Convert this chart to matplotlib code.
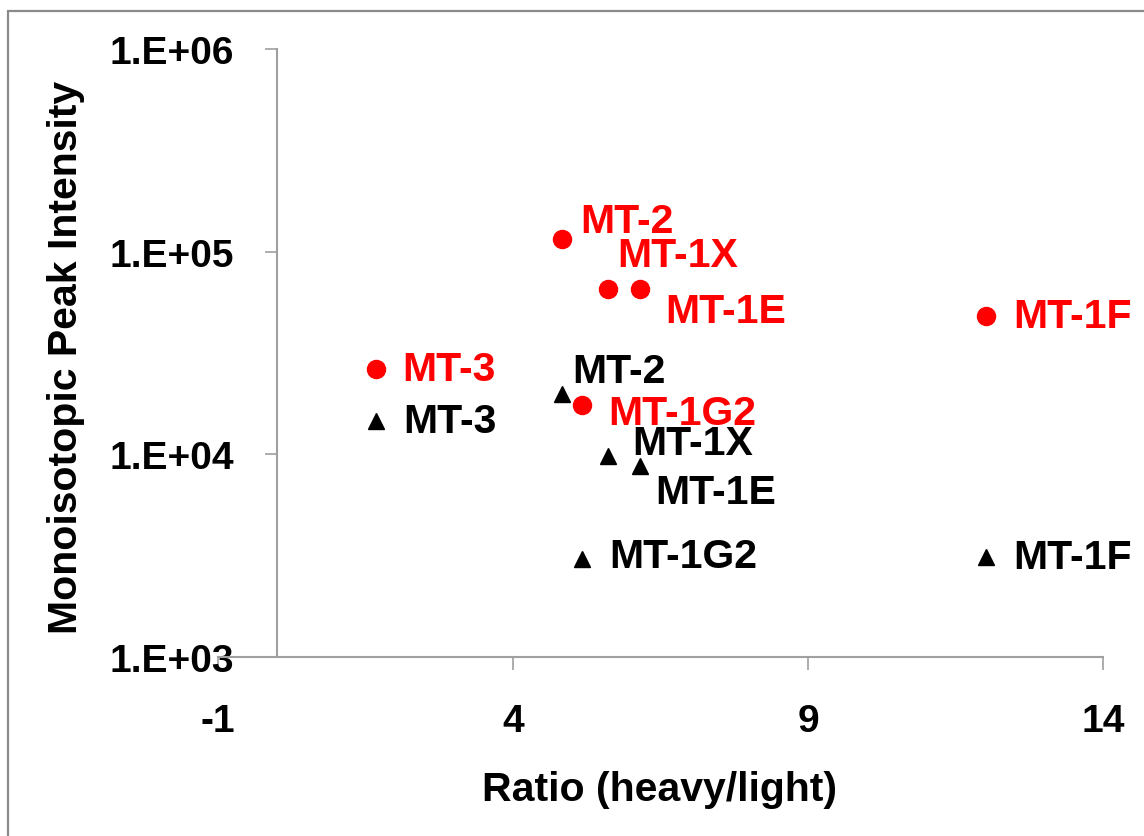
import numpy as np
import matplotlib
matplotlib.use("Agg")
import matplotlib.pyplot as plt
from matplotlib.ticker import FixedLocator, FuncFormatter, NullLocator

plt.rcParams['font.family'] = ['Liberation Sans', 'DejaVu Sans']
plt.rcParams['font.weight'] = 'bold'

# peptide names and ratio (heavy/light)
names = ['MT-3', 'MT-2', 'MT-1X', 'MT-1E', 'MT-1G2', 'MT-1F']
ratio = [1.68, 4.83, 5.61, 6.15, 5.17, 12.02]

# monoisotopic peak intensities
red_intensity = [26400, 115300, 65300, 65300, 17500, 48100]
black_intensity = [14600, 19800, 9820, 8750, 3060, 3100]

x_ticks = [-1, 4, 9, 14]
y_ticks = [1e3, 1e4, 1e5, 1e6]

# label offsets in pixels (dx right, dy down) -- hand placed like the original
red_off = [(26, 0), (18, -18), (9, -34), (25, 22), (26, 8), (27, 0)]
black_off = [(27, 0), (10, -23), (24, -13), (15, 26), (27, -3), (27, 0)]

fig = plt.figure(figsize=(11.44, 8.37), dpi=100)
ax = fig.add_axes([218/1144, 1 - 658/837, (1103 - 218)/1144, (658 - 50)/837])

# chart area border (cut off at right/bottom in the original)
fig.patches.append(plt.Rectangle((8/1144, -0.1), 1.2, 1 - 12/837 + 0.1,
                                 transform=fig.transFigure, fill=False,
                                 edgecolor='#8a8a8a', linewidth=1.6))

ax.plot(ratio, red_intensity, 'o', color='#ff0000', markersize=13, linestyle='none')
ax.plot(ratio, black_intensity, '^', color='black', markersize=12, linestyle='none')

fs = 28
lfs = 29.5
for n, x, y, (dx, dy) in zip(names, ratio, red_intensity, red_off):
    ax.annotate(n, (x, y), xytext=(dx * 0.72, -dy * 0.72), textcoords='offset points',
                ha='left', va='center', color='#ff0000', fontsize=lfs, fontweight='bold')
for n, x, y, (dx, dy) in zip(names, ratio, black_intensity, black_off):
    ax.annotate(n, (x, y), xytext=(dx * 0.72, -dy * 0.72), textcoords='offset points',
                ha='left', va='center', color='black', fontsize=lfs, fontweight='bold')

ax.set_yscale('log')
ax.set_xlim(-1, 14)
ax.set_ylim(1e3, 1e6)
ax.xaxis.set_major_locator(FixedLocator(x_ticks))
ax.yaxis.set_major_locator(FixedLocator(y_ticks))
ax.yaxis.set_minor_locator(NullLocator())
ax.yaxis.set_major_formatter(FuncFormatter(lambda v, p: f"1.E+{int(round(np.log10(v))):02d}"))
ax.xaxis.set_major_formatter(FuncFormatter(lambda v, p: f"{int(v)}"))

for s in ['top', 'right']:
    ax.spines[s].set_visible(False)
ax.spines['left'].set_position(('data', 0))
for s in ['left', 'bottom']:
    ax.spines[s].set_color('#a0a0a0')
    ax.spines[s].set_linewidth(1.5)

ax.tick_params(axis='both', direction='out', length=9, width=1.2, color='#a0a0a0',
               labelsize=fs, labelcolor='black')
ax.tick_params(axis='y', pad=22)
ax.tick_params(axis='x', pad=24)
for lab in ax.get_xticklabels() + ax.get_yticklabels():
    lab.set_fontweight('bold')

fig.text(660/1144, 1 - 790/837, 'Ratio (heavy/light)', ha='center', va='center',
         fontsize=lfs, fontweight='bold')
fig.text(66/1144, 1 - 357/837, 'Monoisotopic Peak Intensity', ha='center', va='center',
         rotation=90, fontsize=lfs, fontweight='bold')

fig.savefig('out.png', dpi=100)
